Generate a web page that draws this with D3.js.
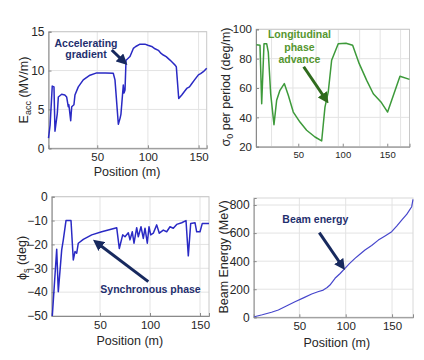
<!DOCTYPE html>
<html>
<head>
<meta charset="utf-8">
<script src="https://cdn.jsdelivr.net/npm/d3@7"></script>
<style>
  body { margin: 0; background: #fff; }
  svg { display: block; font-family: "Liberation Sans", Arial, sans-serif; }
</style>
</head>
<body>
<svg id="chart" width="424" height="360"></svg>
<script>
// accelerating gradient (MV/m) vs position (m)
const posAcc = [1.9, 3.5, 5.6, 7.3, 8.3, 10.6, 11.6, 14.9, 18, 19.8, 21.4, 22, 23.8, 24.8, 27, 28, 31.3, 36.2, 42.8, 49.5, 58, 65.8, 67.5, 70.8, 72.5, 73.4, 75.7, 76.4, 77.4, 78.4, 79, 82.3, 85.6, 88, 92.2, 97, 100, 103.7, 107, 110.3, 113, 115.2, 118, 121.8, 124.5, 126.8, 128, 130.4, 133.4, 136, 138.3, 141, 143.2, 146, 149.8, 152, 154.7, 158];
const eAcc = [1.3, 3.0, 8.0, 7.9, 2.2, 4.5, 6.6, 6.95, 6.85, 6.6, 5.35, 5.6, 3.55, 5.35, 5.6, 6.85, 7.9, 8.8, 9.4, 9.7, 9.7, 9.65, 8.8, 3.1, 3.85, 4.4, 8.15, 7.1, 7.5, 11.35, 11.4, 11.8, 12.85, 13.1, 13.4, 13.4, 13.25, 13.1, 12.8, 12.6, 12.2, 12.0, 11.8, 11.35, 11.0, 10.7, 10.5, 6.4, 6.85, 7.3, 7.7, 7.9, 8.3, 8.8, 9.45, 9.6, 9.85, 10.3];

// longitudinal phase advance per period (deg/m)
const posSigma = [3, 7, 8.9, 11.5, 14.5, 16.3, 19, 22.7, 25.7, 29.4, 34.3, 38.8, 44.4, 51.9, 59.4, 68.8, 76.3, 80, 83.7, 87.5, 91.2, 94.9, 103.6, 111.1, 118.5, 126.9, 134.3, 142.9, 150.4, 164.3, 175];
const sigma0 = [89.5, 89.1, 49.3, 90.2, 90.2, 84.5, 56, 35, 51.6, 58.4, 63, 55, 43.6, 36.8, 31.2, 26.6, 23.9, 47, 57.3, 78.9, 84.5, 90.2, 90.5, 89.1, 76.6, 65.2, 56.1, 50.5, 43.6, 68, 65.9];

// synchronous phase (deg)
const posPhi = [2.3, 6.7, 8.3, 11.7, 13.3, 16, 21, 23.3, 25, 26.7, 28.3, 33.3, 41.7, 51.7, 66.7, 69.3, 72.7, 75, 78.3, 80, 82.3, 84, 86.7, 88.3, 91, 93.3, 95, 97.3, 99, 100.7, 103.3, 106.7, 109.3, 113.3, 116.7, 120, 123.3, 126.7, 131.7, 136, 138.3, 140.7, 145, 146.7, 150, 152.3, 159];
const phiS = [-50, -22, -39.8, -22.3, -18.1, -10, -10, -26.5, -23, -23.7, -19.5, -17.9, -16, -14.7, -13, -21.7, -16, -16.8, -15.1, -18.1, -14.7, -19.5, -13, -16.8, -12.6, -17.5, -13.2, -19.5, -12.6, -16, -15.3, -11.8, -15.3, -14, -14.7, -12.6, -13.2, -11.6, -10.9, -10, -24.8, -11.2, -10.9, -14.7, -14.7, -11.2, -11.2];

// beam energy (MeV)
const posEnergy = [1.4, 10, 20, 27.3, 36, 45.3, 55, 63.3, 70, 75.8, 80, 83, 88.5, 94, 99.2, 104, 110, 115, 120.8, 128, 135.2, 142, 149.6, 155, 160.4, 166, 171.2, 172.6];
const beamEnergy = [4, 18, 36, 52, 80, 111, 140, 166, 182, 194, 212, 230, 278, 312, 349, 382, 420, 448, 479, 512, 550, 578, 610, 650, 693, 735, 788, 840];

// tick values
const ticksPos = [50, 100, 150];
const ticksAcc = [0, 5, 10, 15];
const ticksSigma = [20, 40, 60, 80, 100];
const gridSigmaX = [20, 44, 70, 95, 119, 142, 165];
const ticksPhi = [-50, -40, -30, -20, -10, 0];
const ticksEnergy = [0, 200, 400, 600, 800];

const svg = d3.select("#chart");
const defs = svg.append("defs");

function marker(id, color) {
  defs.append("marker")
    .attr("id", id)
    .attr("viewBox", "0 0 10 10")
    .attr("refX", 6).attr("refY", 5)
    .attr("markerUnits", "userSpaceOnUse")
    .attr("markerWidth", 11).attr("markerHeight", 11)
    .attr("orient", "auto")
    .append("path")
    .attr("d", "M0,0 L10,5 L0,10 Z")
    .attr("fill", color);
}
marker("headNavy", "#17295e");
marker("headGreen", "#2f6b1d");

function panel(p) {
  const x = d3.scaleLinear().domain(p.xDomain).range([p.left, p.right]);
  const y = d3.scaleLinear().domain(p.yDomain).range([p.bottom, p.top]);
  const g = svg.append("g");

  // grid
  g.selectAll(".gx").data(p.gridX).join("line")
    .attr("x1", d => x(d)).attr("x2", d => x(d))
    .attr("y1", p.top).attr("y2", p.bottom)
    .attr("stroke", "#e3e3e3").attr("stroke-width", 1);
  g.selectAll(".gy").data(p.yTicks).join("line")
    .attr("x1", p.left).attr("x2", p.right)
    .attr("y1", d => y(d)).attr("y2", d => y(d))
    .attr("stroke", "#e3e3e3").attr("stroke-width", 1);

  // frame
  g.append("rect")
    .attr("x", p.left).attr("y", p.top)
    .attr("width", p.right - p.left).attr("height", p.bottom - p.top)
    .attr("fill", "none").attr("stroke", p.frame || "#c8c8c8");

  // axes
  const ax = g.append("g").attr("transform", `translate(0,${p.bottom})`)
    .call(d3.axisBottom(x).tickValues(ticksPos).tickSize(-3).tickPadding(5).tickFormat(d3.format("d")));
  const ay = g.append("g").attr("transform", `translate(${p.left},0)`)
    .call(d3.axisLeft(y).tickValues(p.yTicks).tickSize(-3).tickPadding(4).tickFormat(d3.format("d")));
  [ax, ay].forEach(a => {
    a.select(".domain").attr("stroke", "#8a8a8a");
    a.selectAll(".tick line").attr("stroke", "#8a8a8a");
    a.selectAll("text").attr("fill", "#262626").attr("font-family", "Liberation Sans, Arial, sans-serif");
  });
  ax.selectAll("text").attr("font-size", p.xTickSize || 11.5);
  ay.selectAll("text").attr("font-size", p.yTickSize || 11.5);

  // data line
  const line = d3.line().x(d => x(d[0])).y(d => y(d[1]));
  g.append("path")
    .datum(d3.zip(p.xs, p.ys))
    .attr("d", line)
    .attr("fill", "none")
    .attr("stroke", p.color)
    .attr("stroke-width", p.width || 1.5)
    .attr("stroke-linejoin", "round");

  // axis labels
  if (p.xLabel) {
    g.append("text")
      .attr("x", (p.left + p.right) / 2 + (p.xLabelShift || 0)).attr("y", p.xLabelY)
      .attr("text-anchor", "middle").attr("font-size", 12.5).attr("fill", "#262626")
      .text(p.xLabel);
  }
  const yl = g.append("text")
    .attr("transform", `translate(${p.yLabelX},${p.yLabelY}) rotate(-90)`)
    .attr("text-anchor", "middle").attr("font-size", 12.5).attr("fill", "#262626");
  p.yLabel.forEach(part => {
    const t = yl.append("tspan").text(part.t);
    if (part.sub) t.attr("font-size", 9).attr("dy", 3);
    else if (part.after) t.attr("dy", -3);
  });

  // annotation
  const a = p.note;
  a.lines.forEach((s, i) => {
    g.append("text")
      .attr("x", x(a.at[0])).attr("y", y(a.at[1]) + i * a.step)
      .attr("text-anchor", "middle")
      .attr("font-size", 10.5).attr("font-weight", "bold")
      .attr("fill", a.color)
      .text(s);
  });
  g.append("line")
    .attr("x1", x(a.from[0])).attr("y1", y(a.from[1]))
    .attr("x2", x(a.to[0])).attr("y2", y(a.to[1]))
    .attr("stroke", a.arrow).attr("stroke-width", 3)
    .attr("marker-end", `url(#${a.head})`);
}

panel({
  left: 48.5, right: 206.7, top: 31.7, bottom: 148.3,
  xDomain: [1.9, 158], yDomain: [0, 15],
  xs: posAcc, ys: eAcc, color: "#2a2ac4",
  gridX: ticksPos, yTicks: ticksAcc, yTickSize: 12,
  xLabel: "Position (m)", xLabelY: 176, xLabelShift: -0.5,
  yLabelX: 27.5, yLabelY: 90,
  yLabel: [{t: "E"}, {t: "acc", sub: true}, {t: " (MV/m)", after: true}],
  note: {lines: ["Accelerating", "gradient"], at: [38.9, 13.08], step: 11.6,
         color: "#1f2f6e", arrow: "#17295e", head: "headNavy",
         from: [64.3, 12.65], to: [76.6, 11.1]}
});

panel({
  left: 256, right: 409.5, top: 29.3, bottom: 146.7,
  xDomain: [2.5, 175], yDomain: [20, 100],
  xs: posSigma, ys: sigma0, color: "#3d9a3a",
  gridX: gridSigmaX, yTicks: ticksSigma, xTickSize: 9.5, yTickSize: 11.5,
  yLabelX: 229.5, yLabelY: 87,
  yLabel: [{t: "σ"}, {t: "0", sub: true}, {t: " per period (deg/m)", after: true}],
  note: {lines: ["Longitudinal", "phase", "advance"], at: [51.3, 93.9], step: 12.5,
         color: "#55962f", arrow: "#2f6b1d", head: "headGreen",
         from: [56.1, 74.5], to: [81.2, 52]}
});

panel({
  left: 51.7, right: 209, top: 196.7, bottom: 316,
  xDomain: [1.7, 159], yDomain: [-50, 0],
  xs: posPhi, ys: phiS, color: "#2a2ac4",
  gridX: ticksPos, yTicks: ticksPhi, yTickSize: 12,
  xLabel: "Position (m)", xLabelY: 345, xLabelShift: -0.5,
  yLabelX: 26, yLabelY: 258,
  yLabel: [{t: "ϕ"}, {t: "s", sub: true}, {t: " (deg)", after: true}],
  note: {lines: ["Synchronous phase"], at: [100.5, -40.5], step: 0,
         color: "#1f2f6e", arrow: "#17295e", head: "headNavy",
         from: [98.3, -35.6], to: [46.5, -19.2]}
});

panel({
  left: 253.7, right: 413, top: 198, bottom: 317.3,
  xDomain: [0.75, 172.6], yDomain: [0, 850],
  xs: posEnergy, ys: beamEnergy, color: "#4646cc", width: 1.2,
  gridX: ticksPos, yTicks: ticksEnergy, yTickSize: 12, frame: "#d8d8d8",
  xLabel: "Position (m)", xLabelY: 346.5, xLabelShift: 3.5,
  yLabelX: 227.5, yLabelY: 257,
  yLabel: [{t: "Beam Energy (MeV)"}],
  note: {lines: ["Beam energy"], at: [67.2, 669], step: 0,
         color: "#1f2f6e", arrow: "#17295e", head: "headNavy",
         from: [71.5, 603], to: [96.5, 362]}
});
</script>
</body>
</html>
